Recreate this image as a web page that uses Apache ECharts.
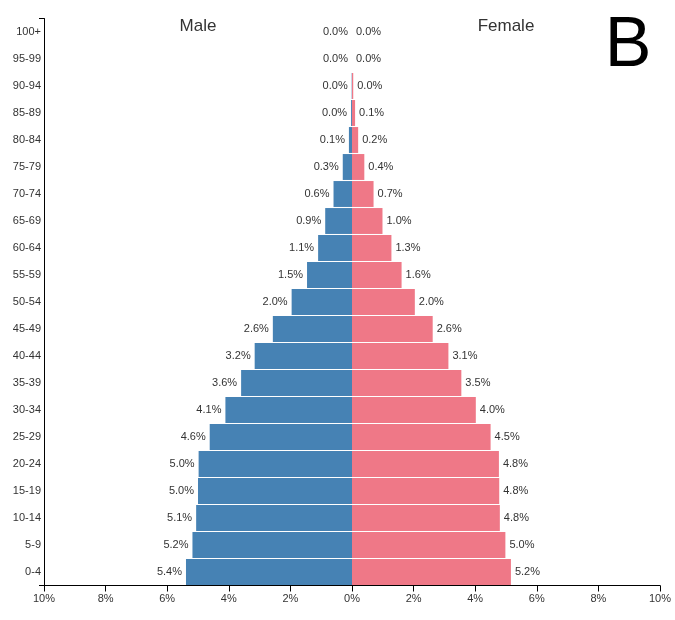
<!DOCTYPE html>
<html>
<head>
<meta charset="utf-8">
<script src="https://cdn.jsdelivr.net/npm/echarts@6/dist/echarts.min.js"></script>
<style>
  html, body { margin: 0; padding: 0; background: #fff; }
  #main { width: 675px; height: 620px; }
</style>
</head>
<body>
<div id="main"></div>
<script>
// age groups, bottom to top
var ages = ['0-4','5-9','10-14','15-19','20-24','25-29','30-34','35-39','40-44','45-49',
            '50-54','55-59','60-64','65-69','70-74','75-79','80-84','85-89','90-94','95-99','100+'];
// percent of population
var male = [5.39, 5.18, 5.06, 5.0, 4.98, 4.62, 4.11, 3.6, 3.16, 2.57,
            1.96, 1.46, 1.1, 0.87, 0.6, 0.3, 0.1, 0.03, 0.01, 0.0, 0.0];
var female = [5.16, 4.98, 4.8, 4.78, 4.77, 4.5, 4.02, 3.55, 3.13, 2.62,
              2.04, 1.61, 1.28, 0.99, 0.7, 0.4, 0.2, 0.1, 0.04, 0.0, 0.0];
var xTicks = [-10, 10, 2]; // min, max, step

var FONT = "'Liberation Sans', Arial, sans-serif";

var chart = echarts.init(document.getElementById('main'));

function pct(v) {
    return Math.abs(v).toFixed(1) + '%';
}

var option = {
    animation: false,
    backgroundColor: '#fff',
    textStyle: { fontFamily: FONT },
    grid: { left: 44, right: 15, top: 18.5, bottom: 34.5, containLabel: false },
    xAxis: {
        type: 'value',
        min: xTicks[0],
        max: xTicks[1],
        interval: xTicks[2],
        axisLine: { show: true, onZero: false, lineStyle: { color: '#000', width: 1 } },
        axisTick: { show: true, length: 6, lineStyle: { color: '#000' } },
        axisLabel: {
            margin: 8, fontSize: 11, color: '#333', fontFamily: FONT,
            formatter: function (v) { return Math.abs(v) + '%'; }
        },
        splitLine: { show: false }
    },
    yAxis: {
        type: 'category',
        data: ages,
        axisLine: { show: true, onZero: false, lineStyle: { color: '#000', width: 1 } },
        // only the two outer ticks, like a d3 axis
        axisTick: { show: true, length: 5, interval: function (i) { return i === 0; }, lineStyle: { color: '#000' } },
        axisLabel: { margin: 3, fontSize: 11, color: '#333', fontFamily: FONT, interval: 0 }
    },
    series: [
        {
            name: 'Male',
            type: 'bar',
            data: male.map(function (v) { return -v; }),
            barGap: '-100%',
            barCategoryGap: '4%',
            itemStyle: { color: '#4682b4' },
            label: {
                show: true, position: 'left', distance: 4,
                fontSize: 11, color: '#333', fontFamily: FONT,
                formatter: function (p) { return pct(p.value); }
            }
        },
        {
            name: 'Female',
            type: 'bar',
            data: female,
            barGap: '-100%',
            barCategoryGap: '4%',
            itemStyle: { color: '#ef7887' },
            label: {
                show: true, position: 'right', distance: 4,
                fontSize: 11, color: '#333', fontFamily: FONT,
                formatter: function (p) { return pct(p.value); }
            }
        }
    ],
    graphic: [
        { type: 'text', x: 198, y: 26, style: { text: 'Male', fill: '#333', font: '17px ' + FONT, textAlign: 'center', textVerticalAlign: 'middle' } },
        { type: 'text', x: 506, y: 26, style: { text: 'Female', fill: '#333', font: '17px ' + FONT, textAlign: 'center', textVerticalAlign: 'middle' } },
        { type: 'text', x: 628, y: 47, style: { text: 'B', fill: '#000', font: '70px ' + FONT, textAlign: 'center', textVerticalAlign: 'middle' } }
    ]
};

chart.setOption(option);
</script>
</body>
</html>
